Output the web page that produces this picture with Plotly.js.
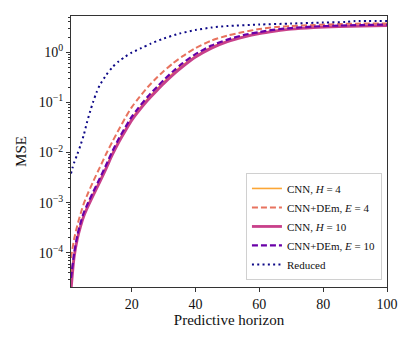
<!DOCTYPE html>
<html>
<head>
<meta charset="utf-8">
<script src="https://cdn.plot.ly/plotly-3.0.1.min.js"></script>
<style>
  html, body { margin: 0; padding: 0; background: #fff; }
  #chart { width: 415px; height: 346px; }
</style>
</head>
<body>
<div id="chart"></div>
<script>
// horizons and log10(MSE)
const hCnn = [1, 2, 3, 4, 5, 6, 8, 10, 12, 14, 16, 18, 20, 22, 25, 28, 30, 33, 36, 40, 45, 50, 55, 60, 65, 70, 77, 85, 92, 100];
const cnnH4 = [-4.4, -4.05, -3.69, -3.44, -3.24, -3.09, -2.82, -2.56, -2.29, -2.01, -1.76, -1.54, -1.33, -1.16, -0.93, -0.73, -0.6, -0.42, -0.26, -0.08, 0.1, 0.22, 0.31, 0.38, 0.43, 0.46, 0.5, 0.52, 0.53, 0.54];
const cnnH10 = [-4.75, -4.08, -3.72, -3.47, -3.27, -3.12, -2.85, -2.59, -2.32, -2.04, -1.79, -1.57, -1.36, -1.19, -0.96, -0.76, -0.63, -0.45, -0.29, -0.1, 0.08, 0.21, 0.3, 0.37, 0.42, 0.46, 0.49, 0.51, 0.52, 0.53];
const demE10 = [-4.5, -4.0, -3.65, -3.4, -3.2, -3.05, -2.78, -2.52, -2.25, -1.97, -1.72, -1.5, -1.29, -1.12, -0.89, -0.69, -0.56, -0.38, -0.22, -0.04, 0.13, 0.25, 0.34, 0.4, 0.45, 0.48, 0.51, 0.53, 0.54, 0.55];
const demE4 = [-4.1, -3.72, -3.45, -3.22, -3.02, -2.86, -2.57, -2.3, -2.03, -1.78, -1.54, -1.31, -1.1, -0.93, -0.7, -0.5, -0.38, -0.22, -0.08, 0.08, 0.23, 0.33, 0.4, 0.46, 0.5, 0.52, 0.54, 0.56, 0.57, 0.57];

const hRed = [1, 1.5, 2, 3, 4, 5, 6, 7, 8, 9, 10, 12, 14, 16, 18, 20, 23, 26, 30, 35, 40, 45, 50, 60, 70, 80, 87, 90, 100];
const reduced = [-2.42, -2.3, -2.2, -2.03, -1.85, -1.65, -1.4, -1.18, -0.98, -0.8, -0.66, -0.46, -0.3, -0.18, -0.09, -0.01, 0.08, 0.17, 0.27, 0.37, 0.44, 0.49, 0.52, 0.55, 0.57, 0.59, 0.6, 0.62, 0.62];

const toMse = arr => arr.map(v => Math.pow(10, v));
const serif = 'Liberation Serif, Times New Roman, serif';
const smooth = { shape: 'spline', smoothing: 0.7 };

const traces = [
  { x: hCnn, y: toMse(cnnH4), name: 'CNN, <i>H</i> = 4',
    line: Object.assign({ color: '#fca636', width: 1.6 }, smooth) },
  { x: hCnn, y: toMse(demE4), name: 'CNN+DEm, <i>E</i> = 4',
    line: Object.assign({ color: '#e8735f', width: 2, dash: '6px,3px' }, smooth) },
  { x: hCnn, y: toMse(cnnH10), name: 'CNN, <i>H</i> = 10',
    line: Object.assign({ color: '#c8408a', width: 2.8 }, smooth) },
  { x: hCnn, y: toMse(demE10), name: 'CNN+DEm, <i>E</i> = 10',
    line: Object.assign({ color: '#6a00a8', width: 2.2, dash: '6px,3px' }, smooth) },
  { x: hRed, y: toMse(reduced), name: 'Reduced',
    line: Object.assign({ color: '#0d0887', width: 2, dash: '2px,3.3px' }, smooth) }
].map(t => Object.assign({ type: 'scatter', mode: 'lines' }, t));

const axisCommon = {
  showgrid: false,
  zeroline: false,
  showline: true,
  mirror: true,
  linecolor: '#333',
  linewidth: 1,
  ticks: 'outside',
  ticklen: 4,
  tickcolor: '#333',
  tickfont: { family: serif, size: 14, color: '#111' }
};

const layout = {
  width: 415,
  height: 346,
  paper_bgcolor: '#fff',
  plot_bgcolor: '#fff',
  margin: { l: 71, r: 28, t: 16, b: 59 },
  font: { family: serif, color: '#111' },
  xaxis: Object.assign({}, axisCommon, {
    range: [1, 100],
    tickvals: [20, 40, 60, 80, 100],
    title: { text: 'Predictive horizon', font: { family: serif, size: 15 }, standoff: 3 }
  }),
  yaxis: Object.assign({}, axisCommon, {
    type: 'log',
    range: [-4.68, 0.72],
    tickvals: [1e-4, 1e-3, 1e-2, 1e-1, 1],
    ticktext: ['10<sup>−4</sup>', '10<sup>−3</sup>', '10<sup>−2</sup>', '10<sup>−1</sup>', '10<sup>0</sup>'],
    minor: { ticks: 'outside', ticklen: 2, tickcolor: '#333', dtick: 'D1' },
    title: { text: 'MSE', font: { family: serif, size: 15 }, standoff: 8 }
  }),
  showlegend: true,
  legend: {
    x: 0.984, y: 0.026, xanchor: 'right', yanchor: 'bottom',
    bgcolor: '#fff',
    bordercolor: '#d0d0d0',
    borderwidth: 1,
    font: { family: serif, size: 11, color: '#111' },
    tracegroupgap: 0,
    itemwidth: 30
  }
};

Plotly.newPlot('chart', traces, layout, { displayModeBar: false, staticPlot: true });
</script>
</body>
</html>
